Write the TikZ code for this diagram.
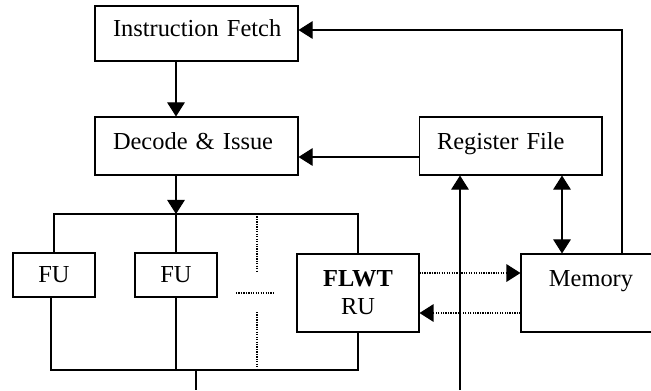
\documentclass[tikz,border=0pt]{standalone}
\usepackage{fontspec}
\setmainfont{Liberation Serif}
\usetikzlibrary{arrows.meta}

\begin{document}
\begin{tikzpicture}[x=0.02cm, y=-0.02cm, line width=0.6pt, >={Triangle[length=8pt,width=10pt]}]
\tikzstyle{stage}=[draw, inner xsep=0.36cm, align=left, font=\fontsize{13.9}{16}\selectfont, text depth=0.2cm]
\tikzstyle{unit}=[draw, align=center, inner sep=0pt, font=\fontsize{13.9}{16}\selectfont]
\tikzstyle{link}=[line width=0.7pt, dash pattern=on 0.7pt off 0.7pt]
\clip (0,0) rectangle (651,390);
\node[stage, text width=3.34cm, minimum height=1.1cm] (fetch) at (196.5,33.5) {\mbox{Instruction Fetch}};
\node[stage, text width=3.34cm, minimum height=1.16cm] (decode) at (196.5,146) {\mbox{Decode \& Issue}};
\node[stage, text width=2.94cm, minimum height=1.16cm] (regfile) at (510.5,146) {\mbox{Register File}};
\node[unit, minimum width=1.64cm, minimum height=0.88cm] (fu1) at (54,275) {FU};
\node[unit, minimum width=1.64cm, minimum height=0.88cm] (fu2) at (176,275) {FU};
\node[unit, minimum width=2.44cm, minimum height=1.56cm] (flwt) at (358,293) {\textbf{FLWT}\\RU};
\node[unit, minimum width=2.8cm, minimum height=1.56cm, text depth=0.6cm] (memory) at (591,293) {Memory};
\coordinate (bus) at (176,214);
\coordinate (join) at (196,370);
\coordinate (exit) at (196,390);
\coordinate (extin) at (460,390);
\coordinate (rfmem) at (562,200);
\coordinate (ret) at (622,30);
\coordinate (rfout) at (419,157);
\coordinate (hi) at (470,273);
\coordinate (lo) at (470,313);
\coordinate (sepa) at (257,214);
\coordinate (sepb) at (257,273);
\coordinate (sepc) at (257,312);
\coordinate (sepd) at (257,370);
\coordinate (dotl) at (236,293);
\coordinate (dotr) at (275,293);
% pipeline front end
\draw[->] (fetch.south -| bus) -- (decode.north -| bus);
\draw[->] (decode.south -| bus) -- (bus);
\draw[->] (rfout) -- (decode.east |- rfout);
% issue bus and result bus
\draw (fu1.north) -- (fu1.north |- bus) -- (flwt.north |- bus) -- (flwt.north);
\draw (fu2.north) -- (bus);
\draw ([xshift=-3*0.02cm]fu1.south) -- ([xshift=-3*0.02cm]fu1.south |- join) -- (flwt.south |- join) -- (flwt.south);
\draw (fu2.south) -- (fu2.south |- join);
\draw (join) -- (exit);
\draw[link] (sepa) -- (sepb);
\draw[link] (sepc) -- (sepd);
\draw[link] (dotl) -- (dotr);
% memory side
\draw[->] (extin) -- (extin |- regfile.south);
\draw[<->] (regfile.south -| rfmem) -- (memory.north -| rfmem);
\draw[->] (memory.north -| ret) -- (ret) -- (fetch.east |- ret);
\draw[link,->] (flwt.east |- hi) -- (memory.west |- hi);
\draw[link,->] (memory.west |- lo) -- (flwt.east |- lo);
\end{tikzpicture}
\end{document}
